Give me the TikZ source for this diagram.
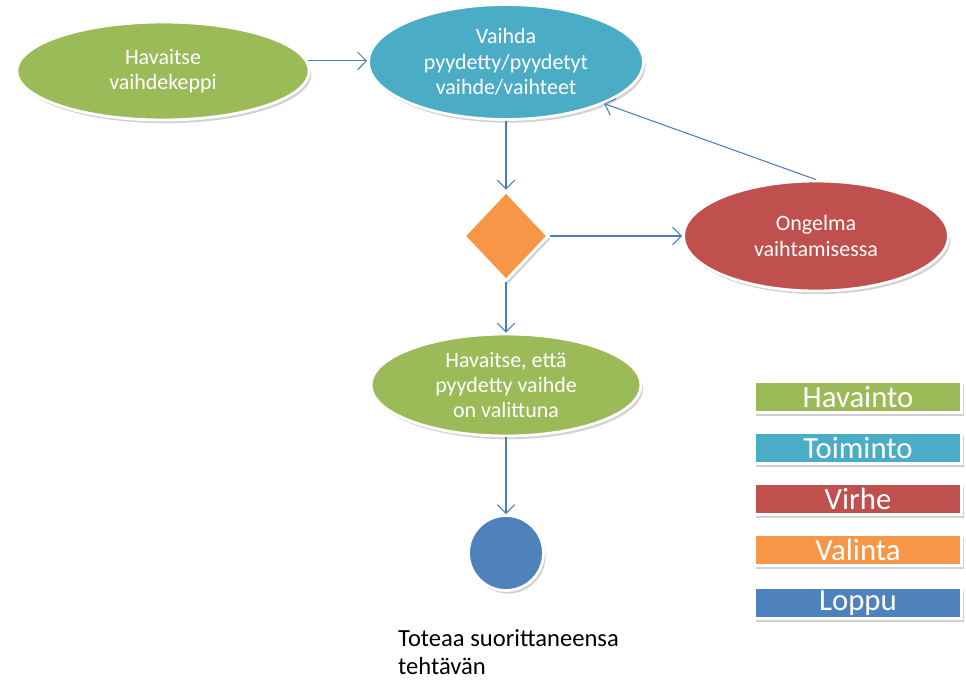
\documentclass[tikz,border=0pt]{standalone}
\usepackage{fontspec}
\setmainfont{Carlito}
\usetikzlibrary{shapes.geometric}
\usetikzlibrary{shadows}
\usetikzlibrary{arrows.meta}
\definecolor{havgreen}{HTML}{9BBB59}
\definecolor{toiblue}{HTML}{4BACC6}
\definecolor{virred}{HTML}{C0504D}
\definecolor{valorange}{HTML}{F79646}
\definecolor{lopblue}{HTML}{4F81BD}
\definecolor{linkblue}{HTML}{4A7EBB}
\tikzset{
  blob/.style={draw=white, line width=1.6pt, text=white, align=center, inner sep=0pt,
    font=\fontsize{12.5}{14.5}\selectfont,
    drop shadow={shadow xshift=1.2pt, shadow yshift=-1.8pt, fill=black!40, opacity=.45}},
  oval/.style={blob, ellipse},
  legend/.style={blob, rectangle, minimum width=4.15cm, minimum height=0.62cm,
    font=\fontsize{17.5}{19}\selectfont},
  link/.style={draw=linkblue, line width=0.6pt, -{Straight Barb[length=5pt,width=10pt]}}
}

\begin{document}
\begin{tikzpicture}[x=0.02cm, y=-0.02cm]
    \useasboundingbox (0,0) rectangle (966,686);
    \node [oval, fill=havgreen, minimum width=5.85cm, minimum height=1.96cm] (havaitse) at (163,71) {Havaitse\\vaihdekeppi};
    \node [oval, fill=toiblue, minimum width=5.5cm, minimum height=2.3cm] (vaihda) at (506,62) {Vaihda\\pyydetty/pyydetyt\\vaihde/vaihteet};
    \node [blob, diamond, fill=valorange, minimum width=1.7cm, minimum height=1.8cm] (valinta) at (506,236) {};
    \node [oval, fill=virred, minimum width=5.3cm, minimum height=2.2cm] (ongelma) at (816,236) {Ongelma\\vaihtamisessa};
    \node [oval, fill=havgreen, minimum width=5.4cm, minimum height=2.04cm] (valittu) at (506,385) {Havaitse, että\\pyydetty vaihde\\on valittuna};
    \node [blob, circle, fill=lopblue, minimum size=1.5cm] (loppu) at (506,553) {};
    \node [anchor=west, align=left, font=\fontsize{14}{16}\selectfont] (toteaa) at (392,652) {Toteaa suorittaneensa\\tehtävän};

    \draw [link] (havaitse.4) -- (vaihda.west |- havaitse.4);
    \draw [link] (vaihda.south) -- (valinta.north);
    \draw [link] (valinta.east) -- (ongelma.west);
    \draw [link] (ongelma.north) -- (vaihda.south east);
    \draw [link] (valinta.south) -- (valittu.north);
    \draw [link] (valittu.south) -- (loppu.north);

    % legend
    \node [legend, fill=havgreen] (lhav) at (858,397) {Havainto};
    \node [legend, fill=toiblue] (ltoi) at (858,448) {Toiminto};
    \node [legend, fill=virred] (lvir) at (858,499) {Virhe};
    \node [legend, fill=valorange] (lval) at (858,550) {Valinta};
    \node [legend, fill=lopblue] (llop) at (858,603) {Loppu};
\end{tikzpicture}
\end{document}
